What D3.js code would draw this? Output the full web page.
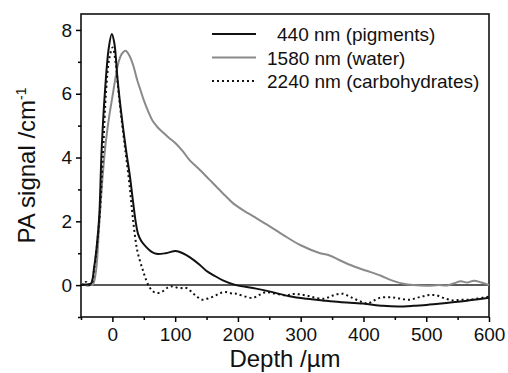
<!DOCTYPE html>
<html>
  <head>
    <meta charset="utf-8" />
    <script src="https://d3js.org/d3.v7.min.js"></script>
    <style>
      body { margin: 0; background: #fff; }
      text { font-family: "Liberation Sans", Arial, sans-serif; fill: #111; }
    </style>
  </head>
  <body>
    <svg id="chart"></svg>
    <script>
      // 440 nm (pigments)
      var depth440 = [-50, -40, -34, -29, -25, -21, -17, -11, -6, -1, 3, 8.5, 15, 22, 28, 33, 37, 41, 46, 54, 62, 70, 85, 101, 112, 123, 139, 149, 162, 176, 197, 229, 255, 282, 310, 335, 362, 399, 431, 455, 479, 505, 532, 565, 600];
      var signal440 = [0, 0.02, 0.05, 0.57, 1.2, 2.13, 4.3, 6.3, 7.4, 7.87, 7.6, 6.4, 5.25, 4.2, 3.4, 2.6, 2.0, 1.6, 1.38, 1.19, 1.05, 0.98, 1.0, 1.07, 1.0, 0.88, 0.64, 0.46, 0.3, 0.15, 0, -0.11, -0.22, -0.35, -0.43, -0.48, -0.53, -0.58, -0.65, -0.67, -0.65, -0.61, -0.56, -0.49, -0.4];

      // 1580 nm (water)
      var depth1580 = [-50, -45, -40, -35, -31, -26, -21, -16, -11, -5, 0, 5, 10, 15, 21, 27, 33, 40, 45, 50, 57, 64, 72, 80, 90, 101, 112, 123, 140, 155, 165, 180, 192, 208, 224, 250, 278, 300, 331, 346, 362, 384, 405, 427, 445, 464, 480, 501, 520, 533, 545, 555, 565, 576, 588, 600];
      var signal1580 = [0.02, 0.03, -0.02, 0, 0.02, 0.46, 1.9, 3.3, 4.4, 5.3, 5.9, 6.5, 7.0, 7.25, 7.35, 7.2, 6.9, 6.4, 6.1, 5.8, 5.45, 5.15, 4.95, 4.8, 4.62, 4.44, 4.2, 3.92, 3.6, 3.3, 3.1, 2.8, 2.57, 2.35, 2.16, 1.85, 1.5, 1.25, 1.0, 0.93, 0.78, 0.59, 0.45, 0.3, 0.15, 0.04, 0, -0.02, 0, -0.01, 0.06, 0.12, 0.08, 0.14, 0.08, 0];

      // 2240 nm (carbohydrates)
      var depth2240 = [-50, -45, -42, -38, -33, -29, -21, -15, -10, -5, 0.5, 5, 10, 17, 22, 27, 31, 35, 40, 48, 54, 59, 65, 72, 80, 88, 94, 100, 107, 114, 120, 128, 136, 144, 155, 165, 172, 181, 190, 197, 210, 224, 235, 245, 260, 277, 288, 298, 310, 320, 336, 346, 355, 367, 378, 389, 399, 407, 415, 426, 440, 452, 463, 474, 485, 495, 505, 516, 530, 543, 556, 569, 582, 600];
      var signal2240 = [0, 0.05, 0.1, 0, 0.05, 0.5, 2.0, 4.1, 6.1, 7.1, 7.45, 7.0, 6.0, 4.8, 4.0, 3.2, 2.4, 1.7, 1.05, 0.5, 0.15, -0.06, -0.2, -0.25, -0.2, -0.08, -0.04, -0.06, -0.1, -0.08, -0.11, -0.25, -0.38, -0.46, -0.4, -0.32, -0.25, -0.22, -0.26, -0.27, -0.35, -0.4, -0.3, -0.22, -0.27, -0.32, -0.28, -0.29, -0.33, -0.38, -0.43, -0.37, -0.3, -0.27, -0.36, -0.46, -0.54, -0.58, -0.5, -0.4, -0.38, -0.4, -0.44, -0.46, -0.4, -0.35, -0.31, -0.32, -0.42, -0.48, -0.46, -0.46, -0.42, -0.36];

      var legendLabels = [" 440 nm (pigments)", "1580 nm (water)", "2240 nm (carbohydrates)"];
      var xTicks = [0, 100, 200, 300, 400, 500, 600];
      var yTicks = [0, 2, 4, 6, 8];

      var width = 508;
      var height = 373;
      var margin = { top: 14, right: 19, bottom: 56, left: 81 };

      var svg = d3.select("#chart").attr("width", width).attr("height", height);

      var x = d3.scaleLinear().domain([-50, 600]).range([margin.left, width - margin.right]);
      var y = d3.scaleLinear().domain([-1, 8.5]).range([height - margin.bottom, margin.top]);

      // frame
      svg.append("rect")
        .attr("x", x(-50))
        .attr("y", y(8.5))
        .attr("width", x(600) - x(-50))
        .attr("height", y(-1) - y(8.5))
        .attr("fill", "none")
        .attr("stroke", "#111")
        .attr("stroke-width", 1.6);

      // zero line
      svg.append("line")
        .attr("x1", x(-50)).attr("x2", x(600))
        .attr("y1", y(0)).attr("y2", y(0))
        .attr("stroke", "#222")
        .attr("stroke-width", 1.5);

      // x axis
      var xAxis = svg.append("g")
        .attr("transform", "translate(0," + y(-1) + ")")
        .call(d3.axisBottom(x).tickValues(xTicks).tickSize(5).tickPadding(6).tickFormat(d3.format("d")));
      xAxis.select(".domain").remove();
      xAxis.selectAll("line").attr("stroke-width", 1.5);
      xAxis.selectAll("text").style("font-size", "19px").attr("fill", "#111");
      svg.append("g")
        .attr("transform", "translate(0," + y(-1) + ")")
        .call(d3.axisBottom(x).tickValues(d3.range(-50, 600, 100)).tickSize(3).tickFormat(""))
        .call(function (g) { g.select(".domain").remove(); g.selectAll("line").attr("stroke-width", 1.5); });

      // y axis
      var yAxis = svg.append("g")
        .attr("transform", "translate(" + x(-50) + ",0)")
        .call(d3.axisLeft(y).tickValues(yTicks).tickSize(5).tickPadding(4).tickFormat(d3.format("d")));
      yAxis.select(".domain").remove();
      yAxis.selectAll("line").attr("stroke-width", 1.5);
      yAxis.selectAll("text").style("font-size", "19px").attr("fill", "#111");
      svg.append("g")
        .attr("transform", "translate(" + x(-50) + ",0)")
        .call(d3.axisLeft(y).tickValues([-1, 1, 3, 5, 7]).tickSize(3).tickFormat(""))
        .call(function (g) { g.select(".domain").remove(); g.selectAll("line").attr("stroke-width", 1.5); });

      // axis titles
      svg.append("text")
        .attr("x", (x(-50) + x(600)) / 2)
        .attr("y", 367)
        .attr("text-anchor", "middle")
        .style("font-size", "24px")
        .text("Depth /\u00b5m");

      var yTitle = svg.append("text")
        .attr("transform", "translate(35," + (y(-1) + y(8.5)) / 2 + ") rotate(-90)")
        .attr("text-anchor", "middle")
        .style("font-size", "24px");
      yTitle.append("tspan").text("PA signal /cm");
      yTitle.append("tspan").attr("dy", -9).style("font-size", "14px").text("-1");

      var line = d3.line()
        .x(function (d) { return x(d[0]); })
        .y(function (d) { return y(d[1]); })
        .curve(d3.curveCatmullRom.alpha(0.5));

      var series = [
        { depth: depth1580, signal: signal1580, color: "#8a8a8a", dash: null },
        { depth: depth2240, signal: signal2240, color: "#111", dash: "2,3" },
        { depth: depth440, signal: signal440, color: "#111", dash: null }
      ];

      series.forEach(function (s) {
        svg.append("path")
          .datum(d3.zip(s.depth, s.signal))
          .attr("d", line)
          .attr("fill", "none")
          .attr("stroke", s.color)
          .attr("stroke-width", 2)
          .attr("stroke-dasharray", s.dash);
      });

      // legend
      var legendStyle = [
        { color: "#111", dash: null, tx: 277 },
        { color: "#8a8a8a", dash: null, tx: 267 },
        { color: "#111", dash: "2,3", tx: 267 }
      ];
      legendLabels.forEach(function (label, i) {
        var ly = 34 + i * 23.5;
        svg.append("line")
          .attr("x1", 212).attr("x2", 256)
          .attr("y1", ly).attr("y2", ly)
          .attr("stroke", legendStyle[i].color)
          .attr("stroke-width", 2)
          .attr("stroke-dasharray", legendStyle[i].dash);
        svg.append("text")
          .attr("x", legendStyle[i].tx)
          .attr("y", ly + 7)
          .style("font-size", "19px")
          .text(label.trim());
      });
    </script>
  </body>
</html>
